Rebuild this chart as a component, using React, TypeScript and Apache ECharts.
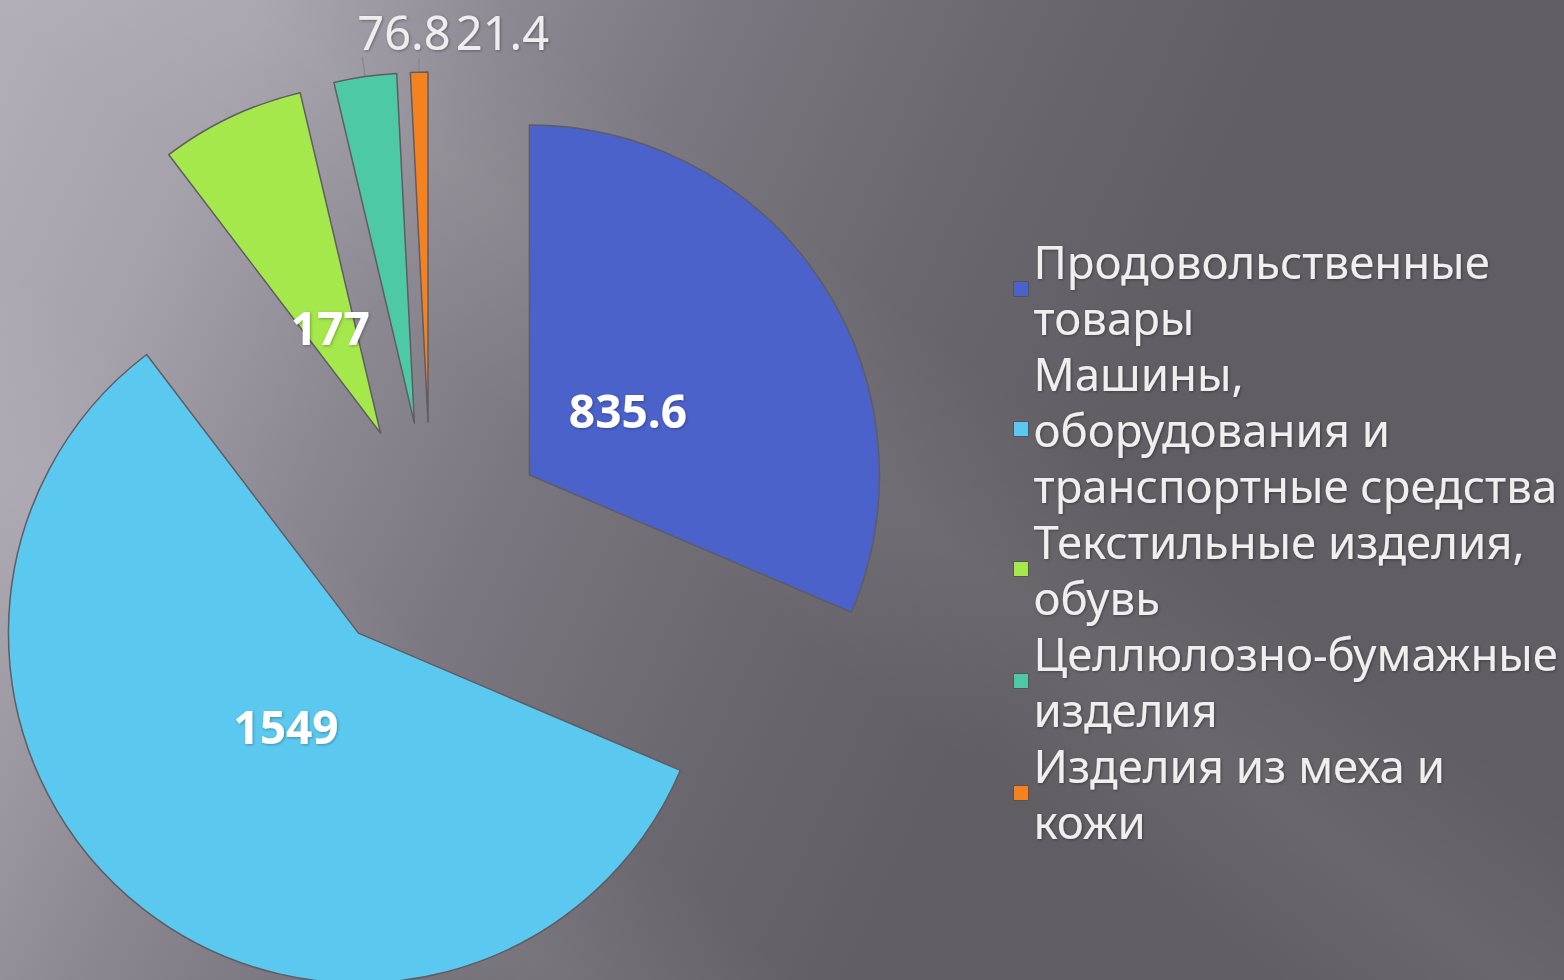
import React, { useEffect, useRef } from "react";
import * as echarts from "echarts";

const categories = [
  "Продовольственные товары",
  "Машины, оборудования и транспортные средства",
  "Текстильные изделия, обувь",
  "Целлюлозно-бумажные изделия",
  "Изделия из меха и кожи",
];
const legendLines = [
  "Продовольственные\nтовары",
  "Машины,\nоборудования и\nтранспортные средства",
  "Текстильные изделия,\nобувь",
  "Целлюлозно-бумажные\nизделия",
  "Изделия из меха и\nкожи",
];
const values = [835.6, 1549, 177, 76.8, 21.4];
const valueLabels = ["835.6", "1549", "177", "76.8", "21.4"];
const colors = ["#4B62CB", "#5BC9EF", "#A5E84B", "#4DC9A5", "#F5821F"];
const insideLabel = [true, true, true, false, false];
const outsideLineLength = [0, 0, 0, 20, 14];

const FONT = "Noto Sans";

export default function App() {
  const ref = useRef<HTMLDivElement>(null);
  useEffect(() => {
    document.body.style.margin = "0";
    const chart = echarts.init(ref.current!, undefined, { renderer: "svg" });
    const center = [431, 540];
    const option: any = {
      animation: false,
      graphic: [
        {
          type: "rect",
          z: -10,
          silent: true,
          shape: { x: 0, y: 0, width: 1564, height: 980 },
          style: {
            fill: new echarts.graphic.LinearGradient(
              0,
              0,
              1100,
              500,
              [
                { offset: 0, color: "#b3afb9" },
                { offset: 0.2, color: "#a6a2ac" },
                { offset: 0.4, color: "#8b8790" },
                { offset: 0.55, color: "#7b7780" },
                { offset: 0.8, color: "#6a666d" },
                { offset: 1, color: "#605d63" },
              ],
              true
            ),
          },
        },
        {
          type: "rect",
          z: -9,
          silent: true,
          shape: { x: 0, y: 0, width: 1564, height: 980 },
          style: {
            fill: new echarts.graphic.LinearGradient(
              800,
              640,
              1000,
              380,
              [
                { offset: 0, color: "rgba(255,255,255,0)" },
                { offset: 0.5, color: "rgba(255,255,255,0.06)" },
                { offset: 1, color: "rgba(255,255,255,0)" },
              ],
              true
            ),
          },
        },
        {
          type: "rect",
          z: -9,
          silent: true,
          shape: { x: 0, y: 0, width: 1564, height: 980 },
          style: {
            fill: new echarts.graphic.LinearGradient(
              80,
              760,
              300,
              520,
              [
                { offset: 0, color: "rgba(255,255,255,0)" },
                { offset: 0.5, color: "rgba(255,255,255,0.07)" },
                { offset: 1, color: "rgba(255,255,255,0)" },
              ],
              true
            ),
          },
        },
      ],
      legend: {
        orient: "vertical",
        left: 1013,
        top: 233,
        padding: 0,
        itemGap: 0,
        itemWidth: 15,
        itemHeight: 15,
        icon: "rect",
        selectedMode: false,
        data: categories,
        formatter: (name: string) => legendLines[categories.indexOf(name)],
        textStyle: {
          color: "#efefef",
          fontFamily: FONT,
          fontSize: 45.5,
          lineHeight: 56,
          textShadowColor: "rgba(0,0,0,0.35)",
          textShadowBlur: 3,
          textShadowOffsetX: 1,
          textShadowOffsetY: 1,
        },
        itemStyle: { borderColor: "#555259", borderWidth: 1 },
      },
      series: [
        {
          type: "pie",
          center,
          radius: 350,
          startAngle: 90,
          clockwise: true,
          selectedMode: "multiple",
          selectedOffset: 118,
          avoidLabelOverlap: false,
          itemStyle: { borderColor: "#5f5c63", borderWidth: 1.5 },
          select: { itemStyle: { borderColor: "#5f5c63", borderWidth: 1.5 } },
          emphasis: { disabled: true },
          label: {
            show: true,
            position: "outside",
            formatter: (p: any) => valueLabels[p.dataIndex],
            color: "#eeeeee",
            fontFamily: FONT,
            fontSize: 47,
            textShadowColor: "rgba(0,0,0,0.35)",
            textShadowBlur: 3,
            textShadowOffsetX: 1,
            textShadowOffsetY: 1,
          },
          labelLine: {
            show: true,
            length: 14,
            length2: 0,
            lineStyle: { color: "#8c8a90", width: 1.5 },
          },
          labelLayout: (p: any) => {
            if (p.seriesIndex !== 0) return {};
            if (p.dataIndex === 3) return { align: "left", verticalAlign: "middle", dx: 0, dy: -25 };
            if (p.dataIndex === 4) return { align: "left", verticalAlign: "middle", dx: 42, dy: -26 };
            return {};
          },
          data: values.map((v, i) => ({
            name: categories[i],
            value: v,
            selected: true,
            itemStyle: { color: colors[i] },
            label: { show: !insideLabel[i] },
            labelLine: { show: !insideLabel[i], length: outsideLineLength[i], length2: 0 },
          })),
        },
        {
          type: "pie",
          center,
          radius: 230,
          startAngle: 90,
          clockwise: true,
          selectedMode: "multiple",
          selectedOffset: 118,
          silent: true,
          avoidLabelOverlap: false,
          itemStyle: { color: "rgba(0,0,0,0)", borderWidth: 0 },
          select: { itemStyle: { color: "rgba(0,0,0,0)", borderWidth: 0 } },
          emphasis: { disabled: true },
          label: {
            show: true,
            position: "inside",
            rotate: 0,
            formatter: (p: any) => valueLabels[p.dataIndex],
            color: "#ffffff",
            fontFamily: FONT,
            fontWeight: "bold",
            fontSize: 46,
            textShadowColor: "rgba(0,0,0,0.3)",
            textShadowBlur: 3,
            textShadowOffsetX: 1,
            textShadowOffsetY: 1,
          },
          labelLine: { show: false },
          data: values.map((v, i) => ({
            name: categories[i],
            value: v,
            selected: true,
            label: { show: insideLabel[i] },
          })),
        },
      ],
    };
    chart.setOption(option);
    return () => chart.dispose();
  }, []);
  return (
    <div
      ref={ref}
      style={{ position: "absolute", left: 0, top: 0, width: 1564, height: 980 }}
    />
  );
}
